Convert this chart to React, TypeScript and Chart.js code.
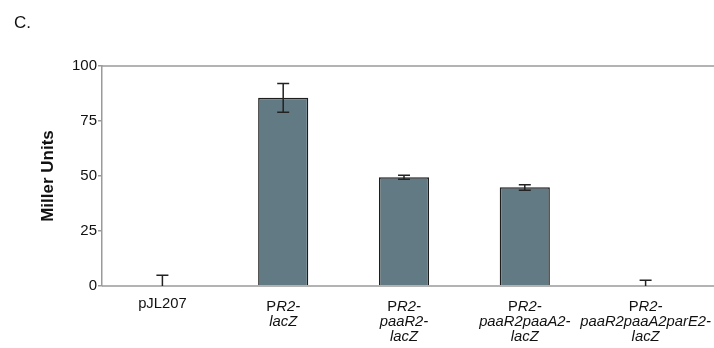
import React, { useEffect, useRef } from "react";
import { Chart, registerables } from "chart.js";

Chart.register(...registerables);

// Category labels: each entry is a list of lines; text inside {} is italic
const categories: string[][] = [
  ["pJL207"],
  ["P{R2-}", "{lacZ}"],
  ["P{R2-}", "{paaR2-}", "{lacZ}"],
  ["P{R2-}", "{paaR2paaA2-}", "{lacZ}"],
  ["P{R2-}", "{paaR2paaA2parE2-}", "{lacZ}"],
];
const millerUnits: number[] = [0, 85.6, 49.4, 44.9, 0];
const errHigh: number[] = [4.9, 92.1, 50.3, 46.0, 2.6];
const errLow: number[] = [0, 79.0, 48.5, 43.5, 0];
const yTicks: number[] = [0, 25, 50, 75, 100];
const yTitle = "Miller Units";
const panelLabel = "C.";

const FONT = "'Liberation Sans', Arial, sans-serif";

function parseSegments(line: string): { text: string; italic: boolean }[] {
  const out: { text: string; italic: boolean }[] = [];
  const re = /\{([^}]*)\}|([^{]+)/g;
  let m: RegExpExecArray | null;
  while ((m = re.exec(line))) {
    if (m[1] !== undefined) out.push({ text: m[1], italic: true });
    else out.push({ text: m[2], italic: false });
  }
  return out;
}

const customPlugin = {
  id: "custom",
  afterDatasetsDraw(chart: any) {
    const ctx = chart.ctx;
    const { left, bottom } = chart.chartArea;
    const x = chart.scales.x;
    const y = chart.scales.y;
    const W = chart.width;
    ctx.save();
    // frame lines extending to the right edge
    ctx.strokeStyle = "#9a9a9a";
    ctx.lineWidth = 1.5;
    ctx.beginPath();
    ctx.moveTo(left, y.getPixelForValue(100));
    ctx.lineTo(W, y.getPixelForValue(100));
    ctx.moveTo(left, bottom);
    ctx.lineTo(W, bottom);
    ctx.stroke();

    // error bars
    ctx.strokeStyle = "#222";
    ctx.lineWidth = 1.5;
    const cap = 6;
    for (let i = 0; i < millerUnits.length; i++) {
      const cx = x.getPixelForValue(i);
      const yh = y.getPixelForValue(errHigh[i]);
      const yl = y.getPixelForValue(errLow[i]);
      ctx.beginPath();
      ctx.moveTo(cx, yh);
      ctx.lineTo(cx, yl);
      ctx.moveTo(cx - cap, yh);
      ctx.lineTo(cx + cap, yh);
      if (errLow[i] > 0) {
        ctx.moveTo(cx - cap, yl);
        ctx.lineTo(cx + cap, yl);
      }
      ctx.stroke();
    }

    // category labels with mixed italics
    ctx.fillStyle = "#111";
    ctx.textBaseline = "middle";
    const fs = 14.8;
    categories.forEach((lines, i) => {
      const cx = x.getPixelForValue(i);
      lines.forEach((line, j) => {
        const segs = parseSegments(line);
        const widths = segs.map((s) => {
          ctx.font = `${s.italic ? "italic " : ""}${fs}px ${FONT}`;
          return ctx.measureText(s.text).width;
        });
        const total = widths.reduce((a, b) => a + b, 0);
        let sx = cx - total / 2;
        const ly = (lines.length === 1 ? 304 : 307) + j * 15;
        segs.forEach((s, k) => {
          ctx.font = `${s.italic ? "italic " : ""}${fs}px ${FONT}`;
          ctx.textAlign = "left";
          ctx.fillText(s.text, sx, ly);
          sx += widths[k];
        });
      });
    });

    // panel label
    ctx.font = `17px ${FONT}`;
    ctx.textAlign = "left";
    ctx.fillStyle = "#111";
    ctx.fillText(panelLabel, 14, 23);
    ctx.restore();
  },
};

export default function App() {
  const ref = useRef<HTMLCanvasElement | null>(null);
  useEffect(() => {
    document.body.style.margin = "0";
    const chart = new Chart(ref.current as HTMLCanvasElement, {
      type: "bar",
      data: {
        labels: categories.map((c) => c.join(" ").replace(/[{}]/g, "")),
        datasets: [
          {
            data: millerUnits,
            backgroundColor: "#627a84",
            borderColor: "#1e1e1e",
            borderWidth: 1.5,
            barPercentage: 0.83,
            categoryPercentage: 0.5,
          },
        ],
      },
      options: {
        responsive: false,
        animation: false,
        devicePixelRatio: 1,
        layout: { padding: { left: 38, top: 66, right: 8, bottom: 0 } },
        plugins: { legend: { display: false }, tooltip: { enabled: false } },
        scales: {
          x: {
            grid: { display: false },
            border: { display: false },
            ticks: { display: false },
            afterFit: (s: any) => {
              s.height = 62;
            },
          },
          y: {
            min: 0,
            max: 100,
            afterBuildTicks: (s: any) => {
              s.ticks = yTicks.map((v) => ({ value: v }));
            },
            grid: {
              drawOnChartArea: false,
              drawTicks: true,
              tickLength: 4,
              tickColor: "#9a9a9a",
              lineWidth: 1.5,
            },
            border: { display: true, color: "#9a9a9a", width: 1.5 },
            ticks: {
              color: "#111",
              padding: 1,
              font: { size: 15, family: FONT },
            },
            title: {
              display: true,
              text: yTitle,
              color: "#111",
              padding: 0,
              font: { size: 17, weight: "bold", family: FONT },
            },
            afterFit: (s: any) => {
              s.width = 64;
            },
          },
        },
      },
      plugins: [customPlugin],
    });
    return () => chart.destroy();
  }, []);
  return <canvas ref={ref} width={714} height={348} style={{ display: "block" }} />;
}
